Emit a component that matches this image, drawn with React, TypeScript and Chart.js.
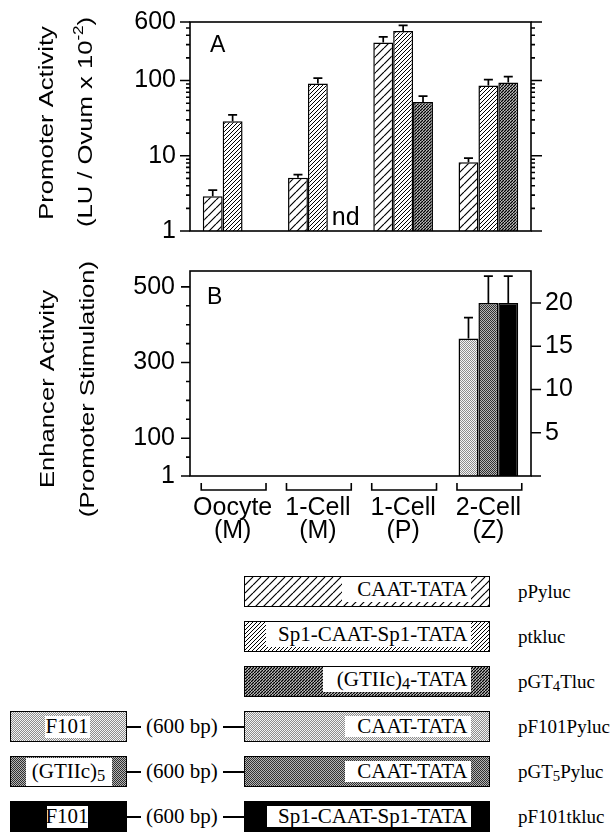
import React, { useEffect, useMemo, useRef } from "react";
import { Chart, registerables } from "chart.js";
Chart.register(...registerables);

const SANS = '"Liberation Sans", Arial, Helvetica, sans-serif';
const SERIF = '"Liberation Serif", "Times New Roman", serif';

// ---------- data ----------
const categories = [["Oocyte", "(M)"], ["1-Cell", "(M)"], ["1-Cell", "(P)"], ["2-Cell", "(Z)"]];

// Panel A: promoter activity (LU / ovum x 10^-2)
const pPylucActivity = [2.9, 5.1, 320, 8.2];
const pPylucErrorTop = [3.5, 5.6, 380, 9.3];
const ptklucActivity = [28.7, 91, 455, 86];
const ptklucErrorTop = [35, 108, 540, 103];
const pGT4TlucActivity = [null, null, 52, 94];
const pGT4TlucErrorTop = [null, null, 62, 113];
const pGT4TlucNotDetected = [false, true, false, false];

const promoterTicks = [1, 2, 3, 4, 5, 6, 7, 8, 9, 10, 20, 30, 40, 50, 60, 70, 80, 90, 100, 200, 300, 400, 500, 600];
const promoterTickLabels = ["1", "", "", "", "", "", "", "", "", "10", "", "", "", "", "", "", "", "", "100", "", "", "", "", "600"];

// Panel B: enhancer activity (promoter stimulation, right axis units)
const pF101PylucStim = [null, null, null, 15.9];
const pF101PylucStimErrorTop = [null, null, null, 18.3];
const pGT5PylucStim = [null, null, null, 20];
const pGT5PylucStimErrorTop = [null, null, null, 23.1];
const pF101tklucStim = [null, null, null, 20];
const pF101tklucStimErrorTop = [null, null, null, 23.1];

const enhancerTicks = [0, 50, 100, 150, 200, 250, 300, 350, 400, 450, 500];
const enhancerTickLabels = ["1", "", "100", "", "", "", "300", "", "", "", "500"];
const stimulationTicks = [0, 5, 10, 15, 20];
const stimulationTickLabels = ["", "5", "10", "15", "20"];

// Constructs diagram
const constructNames = ["pPyluc", "ptkluc", "pGT4Tluc", "pF101Pyluc", "pGT5Pyluc", "pF101tkluc"];
const promoterElements = ["CAAT-TATA", "Sp1-CAAT-Sp1-TATA", "(GTIIc)4-TATA", "CAAT-TATA", "CAAT-TATA", "Sp1-CAAT-Sp1-TATA"];
const enhancerElements = [null, null, null, "F101", "(GTIIc)5", "F101"];
const spacerText = "(600 bp)";

// ---------- helpers ----------
function makeHatch(spacing: number, lineWidth: number) {
  const c = document.createElement("canvas");
  c.width = spacing;
  c.height = spacing;
  const g = c.getContext("2d")!;
  g.fillStyle = "#fff";
  g.fillRect(0, 0, spacing, spacing);
  g.strokeStyle = "#000";
  g.lineWidth = lineWidth;
  g.beginPath();
  for (const k of [-spacing, 0, spacing]) {
    g.moveTo(k, spacing);
    g.lineTo(k + spacing, 0);
  }
  g.stroke();
  return c;
}
function makeStipple(dark: string, light: string) {
  const c = document.createElement("canvas");
  c.width = 2;
  c.height = 2;
  const g = c.getContext("2d")!;
  g.fillStyle = light;
  g.fillRect(0, 0, 2, 2);
  g.fillStyle = dark;
  g.fillRect(0, 0, 1, 1);
  g.fillRect(1, 1, 1, 1);
  return c;
}
function makeSolid(color: string) {
  const c = document.createElement("canvas");
  c.width = 2;
  c.height = 2;
  const g = c.getContext("2d")!;
  g.fillStyle = color;
  g.fillRect(0, 0, 2, 2);
  return c;
}

type Part = { text: string; sup?: boolean };
function drawVerticalTitle(ctx: CanvasRenderingContext2D, baselineX: number, centerY: number, parts: Part[], size: number, stretch: number) {
  ctx.save();
  ctx.translate(baselineX, centerY);
  ctx.rotate(-Math.PI / 2);
  ctx.scale(stretch, 1);
  ctx.fillStyle = "#000";
  ctx.textBaseline = "alphabetic";
  ctx.textAlign = "left";
  const fontFor = (p: Part) => `${p.sup ? Math.round(size * 0.68) : size}px ${SANS}`;
  let total = 0;
  for (const p of parts) {
    ctx.font = fontFor(p);
    total += ctx.measureText(p.text).width;
  }
  let x = -total / 2;
  for (const p of parts) {
    ctx.font = fontFor(p);
    ctx.fillText(p.text, x, p.sup ? -size * 0.42 : 0);
    x += ctx.measureText(p.text).width;
  }
  ctx.restore();
}

function strokeTicks(ctx: CanvasRenderingContext2D, scale: any, x: number, dir: number, majorLen: number, minorLen: number) {
  ctx.beginPath();
  scale.ticks.forEach((t: any) => {
    const p = scale.getPixelForValue(t.value);
    const len = t.label ? majorLen : minorLen;
    ctx.moveTo(x, p);
    ctx.lineTo(x + dir * len, p);
  });
  ctx.stroke();
}

const errorBarPlugin = {
  id: "errorBars",
  afterDatasetsDraw(chart: any) {
    const ctx = chart.ctx;
    ctx.save();
    ctx.strokeStyle = "#000";
    ctx.lineWidth = 1.7;
    chart.data.datasets.forEach((ds: any, di: number) => {
      const meta = chart.getDatasetMeta(di);
      const scale = chart.scales[meta.yAxisID];
      (ds.errorTop || []).forEach((e: number | null, i: number) => {
        if (e == null || ds.data[i] == null) return;
        const bar = meta.data[i];
        const yT = scale.getPixelForValue(e);
        ctx.beginPath();
        ctx.moveTo(bar.x, bar.y);
        ctx.lineTo(bar.x, yT);
        ctx.moveTo(bar.x - 4.5, yT);
        ctx.lineTo(bar.x + 4.5, yT);
        ctx.stroke();
      });
    });
    ctx.restore();
  },
};

const barCommon = { borderColor: "#000", borderWidth: 1.5, borderSkipped: "bottom" as const };

export default function App() {
  const refA = useRef<HTMLCanvasElement>(null);
  const refB = useRef<HTMLCanvasElement>(null);

  const tiles = useMemo(
    () => ({
      hatchWide: makeHatch(8, 1.2),
      hatchFine: makeHatch(4, 1.0),
      hatchDense: makeHatch(3, 1.5),
      stippleLight: makeStipple("#8c8c8c", "#f4f4f4"),
      stippleDark: makeStipple("#303030", "#b4b4b4"),
      black: makeSolid("#000"),
    }),
    []
  );
  const urls = useMemo(() => {
    const o: Record<string, string> = {};
    for (const [k, c] of Object.entries(tiles)) o[k] = `url(${(c as HTMLCanvasElement).toDataURL()})`;
    return o;
  }, [tiles]);

  useEffect(() => {
    const ctxA = refA.current!.getContext("2d")!;
    const pat = (c: HTMLCanvasElement) => ctxA.createPattern(c, "repeat")!;
    const tickFont = { family: SANS, size: 25 };

    const panelA = {
      id: "panelA",
      afterDraw(chart: any) {
        const { ctx, chartArea: ca } = chart;
        const y = chart.scales.y;
        ctx.save();
        ctx.strokeStyle = "#000";
        ctx.lineWidth = 1.6;
        ctx.strokeRect(ca.left, ca.top, ca.right - ca.left, ca.bottom - ca.top);
        strokeTicks(ctx, y, ca.left, -1, 10, 4);
        strokeTicks(ctx, y, ca.right, 1, 11, 4);
        ctx.fillStyle = "#000";
        ctx.font = `23px ${SANS}`;
        ctx.textAlign = "left";
        ctx.textBaseline = "alphabetic";
        ctx.fillText("A", ca.left + 20, ca.top + 30);
        // not detected
        const meta = chart.getDatasetMeta(2);
        pGT4TlucNotDetected.forEach((nd, i) => {
          if (!nd) return;
          const x = meta.data[i] && isFinite(meta.data[i].x) ? meta.data[i].x : chart.scales.x.getPixelForValue(i) + 20;
          ctx.font = `25px ${SANS}`;
          ctx.fillText("nd", x - 6, ca.bottom - 6);
        });
        drawVerticalTitle(ctx, 53, 123, [{ text: "Promoter Activity" }], 21, 1.22);
        drawVerticalTitle(ctx, 92, 122, [{ text: "(LU / Ovum x 10" }, { text: "-2", sup: true }, { text: ")" }], 21, 1.22);
        ctx.restore();
      },
    };

    const chartA = new Chart(refA.current!, {
      type: "bar",
      data: {
        labels: categories,
        datasets: [
          { label: "pPyluc", data: pPylucActivity, errorTop: pPylucErrorTop, backgroundColor: pat(tiles.hatchWide), ...barCommon } as any,
          { label: "ptkluc", data: ptklucActivity, errorTop: ptklucErrorTop, backgroundColor: pat(tiles.hatchFine), ...barCommon } as any,
          { label: "pGT4Tluc", data: pGT4TlucActivity, errorTop: pGT4TlucErrorTop, backgroundColor: pat(tiles.hatchDense), ...barCommon } as any,
        ],
      },
      options: {
        responsive: false,
        animation: false,
        layout: { padding: { top: 22, bottom: 12, right: 85, left: 0 } },
        plugins: { legend: { display: false }, tooltip: { enabled: false } },
        datasets: { bar: { categoryPercentage: 0.7, barPercentage: 1 } },
        scales: {
          x: { display: false },
          y: {
            type: "logarithmic",
            min: 1,
            max: 600,
            afterBuildTicks: (s: any) => {
              s.ticks = promoterTicks.map((v) => ({ value: v }));
            },
            afterFit: (s: any) => {
              s.width = 190;
            },
            grid: { display: false, drawTicks: true, tickLength: 10 },
            border: { display: false },
            ticks: {
              autoSkip: false,
              padding: 4,
              color: "#000",
              font: tickFont,
              callback: (_v: any, i: number) => promoterTickLabels[i],
            },
          },
        },
      } as any,
      plugins: [errorBarPlugin, panelA],
    });

    const panelB = {
      id: "panelB",
      afterDraw(chart: any) {
        const { ctx, chartArea: ca } = chart;
        ctx.save();
        ctx.strokeStyle = "#000";
        ctx.lineWidth = 1.6;
        ctx.strokeRect(ca.left, ca.top, ca.right - ca.left, ca.bottom - ca.top);
        strokeTicks(ctx, chart.scales.y, ca.left, -1, 9, 4);
        strokeTicks(ctx, chart.scales.y2, ca.right, 1, 10, 10);
        // category brackets
        const xs = chart.scales.x;
        const half = ((ca.right - ca.left) / categories.length) * 0.38;
        ctx.beginPath();
        categories.forEach((_c, i) => {
          const cx = xs.getPixelForValue(i) + 1;
          const yb = ca.bottom + 14;
          ctx.moveTo(cx - half, yb - 7);
          ctx.lineTo(cx - half, yb);
          ctx.lineTo(cx + half, yb);
          ctx.lineTo(cx + half, yb - 7);
        });
        ctx.stroke();
        ctx.fillStyle = "#000";
        ctx.font = `23px ${SANS}`;
        ctx.textAlign = "left";
        ctx.textBaseline = "alphabetic";
        ctx.fillText("B", ca.left + 17, ca.top + 33);
        drawVerticalTitle(ctx, 54, 139, [{ text: "Enhancer Activity" }], 21, 1.22);
        drawVerticalTitle(ctx, 94, 139, [{ text: "(Promoter Stimulation)" }], 21, 1.22);
        ctx.restore();
      },
    };

    const chartB = new Chart(refB.current!, {
      type: "bar",
      data: {
        labels: categories,
        datasets: [
          { label: "pF101Pyluc", data: pF101PylucStim, errorTop: pF101PylucStimErrorTop, yAxisID: "y2", backgroundColor: pat(tiles.stippleLight), ...barCommon } as any,
          { label: "pGT5Pyluc", data: pGT5PylucStim, errorTop: pGT5PylucStimErrorTop, yAxisID: "y2", backgroundColor: pat(tiles.stippleDark), ...barCommon } as any,
          { label: "pF101tkluc", data: pF101tklucStim, errorTop: pF101tklucStimErrorTop, yAxisID: "y2", backgroundColor: "#000", ...barCommon } as any,
        ],
      },
      options: {
        responsive: false,
        animation: false,
        layout: { padding: { top: 7, bottom: 0, right: 0, left: 0 } },
        plugins: { legend: { display: false }, tooltip: { enabled: false } },
        datasets: { bar: { categoryPercentage: 0.7, barPercentage: 1 } },
        scales: {
          x: {
            afterFit: (s: any) => {
              s.height = 74;
            },
            grid: { display: false, drawTicks: false },
            border: { display: false },
            ticks: { autoSkip: false, maxRotation: 0, padding: 20, color: "#000", font: { family: SANS, size: 25, lineHeight: 0.93 } },
          },
          y: {
            type: "linear",
            position: "left",
            min: 0,
            max: 542,
            afterBuildTicks: (s: any) => {
              s.ticks = enhancerTicks.map((v) => ({ value: v }));
            },
            afterFit: (s: any) => {
              s.width = 190;
            },
            grid: { display: false, drawTicks: true, tickLength: 9 },
            border: { display: false },
            ticks: { autoSkip: false, padding: 6, color: "#000", font: tickFont, callback: (_v: any, i: number) => enhancerTickLabels[i] },
          },
          y2: {
            type: "linear",
            position: "right",
            min: 0,
            max: 23.7,
            afterBuildTicks: (s: any) => {
              s.ticks = stimulationTicks.map((v) => ({ value: v }));
            },
            afterFit: (s: any) => {
              s.width = 85;
            },
            grid: { display: false, drawTicks: true, tickLength: 9 },
            border: { display: false },
            ticks: { autoSkip: false, padding: 5, color: "#000", font: tickFont, callback: (_v: any, i: number) => stimulationTickLabels[i] },
          },
        },
      } as any,
      plugins: [errorBarPlugin, panelB],
    });

    return () => {
      chartA.destroy();
      chartB.destroy();
    };
  }, [tiles]);

  const withSub = (s: string) => {
    const m = s.match(/^(.*?(?:GT|\)))(\d)(.*)$/);
    if (!m) return s;
    return (
      <>
        {m[1]}
        <span style={{ fontSize: "0.78em", position: "relative", top: "0.3em" }}>{m[2]}</span>
        {m[3]}
      </>
    );
  };

  const rowTop0 = 576;
  const rowStep = 45;
  const boxH = 31;
  const promoterFill = [urls.hatchWide, urls.hatchFine, urls.hatchDense, urls.stippleLight, urls.stippleDark, urls.black];
  const promoterLabelLeft = [342, 266, 323, 345, 345, 267];
  const hatchRow = [true, true, true, false, false, false];
  const enhancerFill = [null, null, null, urls.stippleLight, urls.stippleDark, urls.black];
  const enhancerLabelSpan = [null, null, null, [45, 90, 5], [26, 112, 2], [47, 88, 5]];

  return (
    <div style={{ position: "absolute", left: 0, top: 0, width: 616, height: 833, background: "#fff", overflow: "hidden" }}>
      <canvas ref={refA} width={616} height={250} style={{ position: "absolute", left: 0, top: 0 }} />
      <canvas ref={refB} width={616} height={300} style={{ position: "absolute", left: 0, top: 250 }} />
      {constructNames.map((name, i) => {
        const top = rowTop0 + i * rowStep;
        const cy = top + boxH / 2;
        const enh = enhancerElements[i];
        const span = enhancerLabelSpan[i] as number[] | null;
        const pInset = hatchRow[i] ? [0, 4] : [4, 4];
        return (
          <React.Fragment key={name}>
            {/* promoter box */}
            <div
              style={{
                position: "absolute",
                left: 244,
                top,
                width: 246,
                height: boxH,
                boxSizing: "border-box",
                border: "1.5px solid #000",
                backgroundImage: promoterFill[i],
                backgroundRepeat: "repeat",
              }}
            >
              <div
                style={{
                  position: "absolute",
                  left: promoterLabelLeft[i] - 245.5,
                  right: 18.5,
                  top: pInset[0],
                  bottom: pInset[1],
                  background: "#fff",
                  display: "flex",
                  alignItems: "center",
                  justifyContent: "flex-end",
                  paddingRight: 3,
                  fontFamily: SERIF,
                  fontSize: 21,
                  lineHeight: 1,
                  color: "#000",
                  whiteSpace: "nowrap",
                }}
              >
                {withSub(promoterElements[i])}
              </div>
            </div>
            {enh && span && (
              <>
                <div
                  style={{
                    position: "absolute",
                    left: 10,
                    top,
                    width: 117,
                    height: boxH,
                    boxSizing: "border-box",
                    border: "1.5px solid #000",
                    backgroundImage: enhancerFill[i] as string,
                  }}
                >
                  <div
                    style={{
                      position: "absolute",
                      left: span[0] - 11.5,
                      width: span[1] - span[0],
                      top: span[2] - 1.5,
                      bottom: span[2] - 1.5,
                      background: "#fff",
                      display: "flex",
                      alignItems: "center",
                      justifyContent: "center",
                      fontFamily: SERIF,
                      fontSize: 21,
                      lineHeight: 1,
                      color: "#000",
                      whiteSpace: "nowrap",
                    }}
                  >
                    {withSub(enh)}
                  </div>
                </div>
                <div style={{ position: "absolute", left: 127, top: cy - 1, width: 14, height: 2, background: "#000" }} />
                <div
                  style={{
                    position: "absolute",
                    left: 146,
                    top: cy - 12,
                    height: 24,
                    display: "flex",
                    alignItems: "center",
                    fontFamily: SERIF,
                    fontSize: 21,
                    lineHeight: 1,
                    whiteSpace: "nowrap",
                  }}
                >
                  {spacerText}
                </div>
                <div style={{ position: "absolute", left: 223, top: cy - 1, width: 21, height: 2, background: "#000" }} />
              </>
            )}
            <div
              style={{
                position: "absolute",
                left: 518,
                top: cy - 12,
                height: 24,
                display: "flex",
                alignItems: "center",
                fontFamily: SERIF,
                fontSize: 19,
                lineHeight: 1,
                whiteSpace: "nowrap",
                color: "#000",
              }}
            >
              {withSub(name)}
            </div>
          </React.Fragment>
        );
      })}
    </div>
  );
}
